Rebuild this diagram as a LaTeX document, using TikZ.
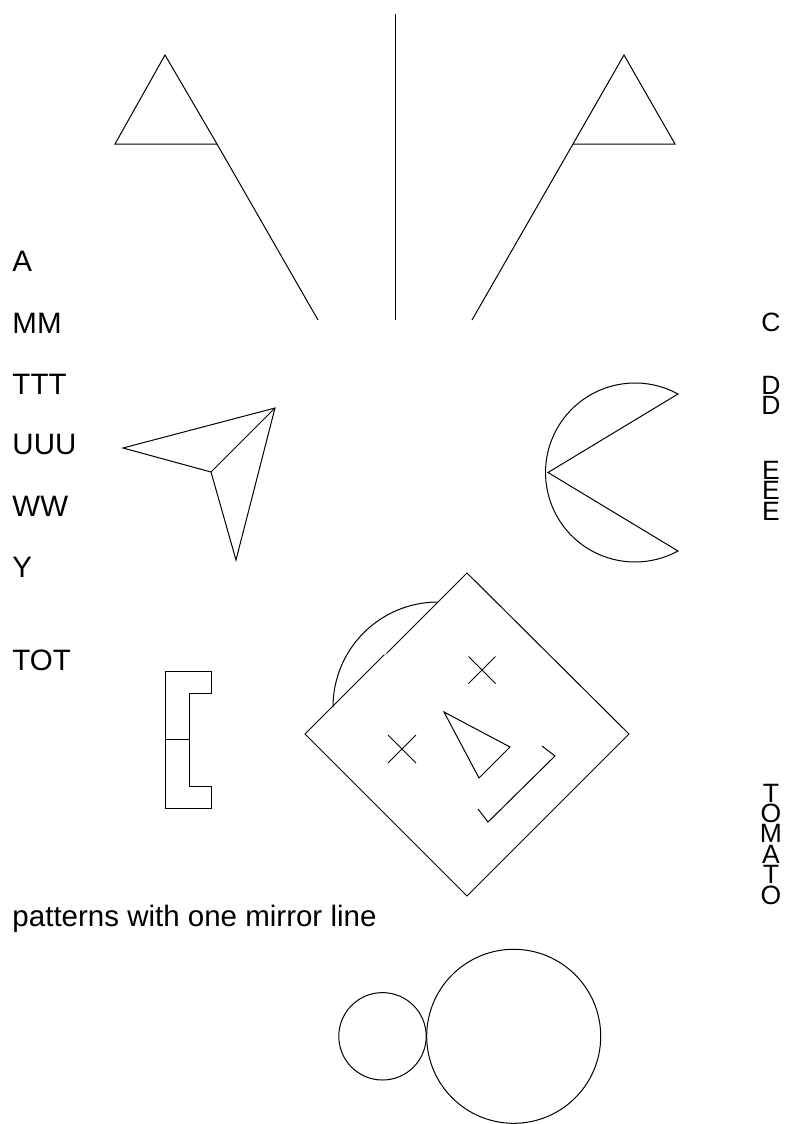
\documentclass[tikz,border=0pt]{standalone}
\usepackage{fontspec}
\setmainfont{Liberation Sans}
\begin{document}
\begin{tikzpicture}[x=1pt,y=1pt,line width=1pt,
  lbl/.style={inner sep=0pt,font=\fontsize{29.5}{29.5}\selectfont},
  rlbl/.style={inner sep=0pt,font=\fontsize{26.5}{26.5}\selectfont},
  shp/.style={draw=black,line width=1pt,line join=miter}]
\useasboundingbox (0,0) rectangle (806,-1124);
% left texts
\node[lbl,anchor=base west] (tA) at (12,-271) {A};
\node[lbl,anchor=base west] (tMM) at (12,-333) {MM};
\node[lbl,anchor=base west] (tTTT) at (12,-394) {TTT};
\node[lbl,anchor=base west] (tUUU) at (12,-454) {UUU};
\node[lbl,anchor=base west] (tWW) at (12,-516) {WW};
\node[lbl,anchor=base west] (tY) at (12,-577) {Y};
\node[lbl,anchor=base west] (tTOT) at (12,-670) {TOT};
\node[lbl,anchor=base west] (tpat) at (12,-926) {patterns with one mirror line};
% right texts
\node[rlbl,anchor=base] (rC) at (771,-331) {C};
\node[rlbl,anchor=base] (rD1) at (771,-394) {D};
\node[rlbl,anchor=base] (rD2) at (771,-414.5) {D};
\node[rlbl,anchor=base] (rE1) at (771,-479) {E};
\node[rlbl,anchor=base] (rE2) at (771,-499.5) {E};
\node[rlbl,anchor=base] (rE3) at (771,-520) {E};
\foreach \l/\i in {T/0,O/1,M/2,A/3,T/4,O/5}{
  \node[rlbl,anchor=base] (tom\i) at (771,-802-20.4*\i) {\l};
}
% flags
\draw[shp] (165,-55) -- (115,-144) -- (217,-144) -- cycle;
\draw[shp] (217,-144) -- (318,-320);
\draw[shp] (624,-55) -- (573,-144) -- (675,-144) -- cycle;
\draw[shp] (573,-144) -- (472,-320);
\draw[shp] (395,-14) -- (395,-320);
% arrow shape
\coordinate (aA) at (275,-408);
\coordinate (aL) at (123,-448);
\coordinate (aC) at (211,-472);
\coordinate (aB) at (236,-560);
\draw[shp] (aA) -- (aL) -- (aC) -- (aB) -- cycle;
\draw[shp] (aC) -- (aA);
% pacman
\draw[shp] (548,-472.5) -- (678,-394) arc[start angle=61.3,end angle=298.7,radius=89.5] -- cycle;
% diamond with a small break in its upper-left edge
\draw[shp] (386.5,-653.5) -- (467,-573) -- (629,-734) -- (467,-896) -- (305,-734) -- (384.5,-654.5);
\draw[shp] (438,-602) arc[start angle=90,end angle=180,radius=105];
% crosses
\draw[shp] (468.5,-656.5) -- (495.5,-683.5) (468.5,-683.5) -- (495.5,-656.5);
\draw[shp] (388,-735) -- (416,-763) (388,-763) -- (416,-735);
% triangle
\draw[shp] (444,-712) -- (510,-747) -- (479,-778) -- cycle;
% mouth
\draw[shp] (542,-746) -- (555,-756) -- (488,-822) -- (478,-809);
% bracket
\draw[shp] (165.7,-671) -- (211.7,-671) -- (211.7,-693) -- (189,-693) -- (189,-786) -- (211.7,-786) -- (211.7,-808) -- (165.7,-808) -- cycle;
\draw[shp] (165.7,-739.3) -- (189,-739.3);
% circles
\draw[shp] (382.5,-1036.3) circle[radius=43.7];
\draw[shp] (513.7,-1036.3) circle[radius=87];
\end{tikzpicture}
\end{document}
